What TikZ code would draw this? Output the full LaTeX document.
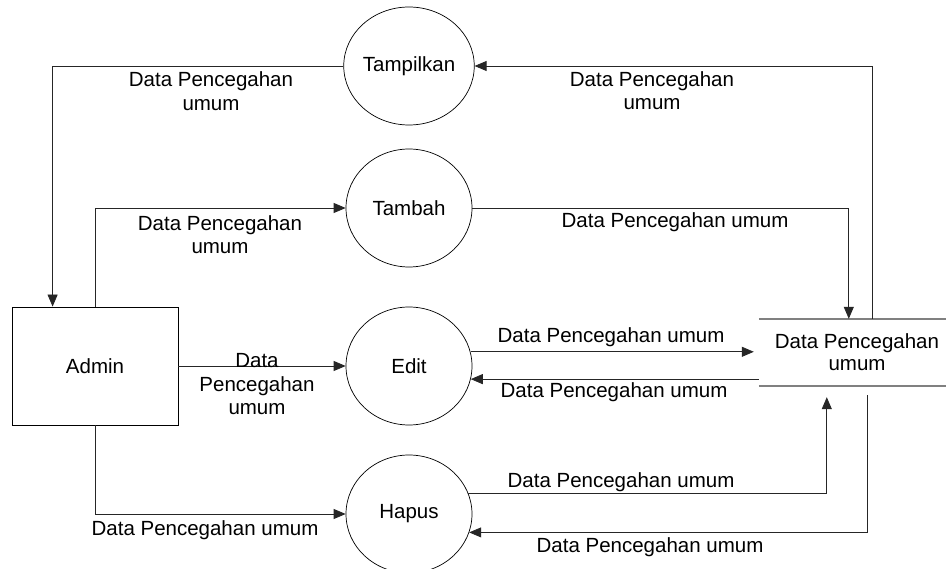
\documentclass[tikz,border=0pt]{standalone}
\usepackage{fontspec}
\setmainfont{Liberation Sans}
\usetikzlibrary{arrows.meta,calc,shapes.geometric}
\begin{document}
\begin{tikzpicture}[x=1pt,y=-1pt,
  proc/.style={ellipse,draw=black,line width=0.7pt,minimum width=126pt,minimum height=118pt,inner sep=0pt,font=\fontsize{20.5}{24}\selectfont},
  ent/.style={rectangle,draw=black,line width=0.8pt,minimum width=166pt,minimum height=118pt,inner sep=0pt,font=\fontsize{20.5}{24}\selectfont},
  store/.style={rectangle,minimum width=196pt,minimum height=67pt,inner sep=0pt,align=center,font=\fontsize{20.5}{22}\selectfont},
  storeline/.style={draw=black!50,line width=1.6pt},
  flow/.style={draw=black!85,line width=0.8pt,-{Triangle[length=12pt,width=10pt]}},
  lbl/.style={align=center,inner sep=0pt,font=\fontsize{20.5}{23.5}\selectfont}]
\useasboundingbox (0,0) rectangle (946,569);
\fill[white] (0,0) rectangle (946,569);
% processes
\node[proc] (tam) at (409,66) {Tampilkan};
\node[proc] (tmb) at (409,208) {Tambah};
\node[proc] (edt) at (409,366) {Edit};
\node[proc] (hps) at (409,514) {Hapus};
% entity
\node[ent] (adm) at (95,366) {Admin};
% data store
\node[store] (ds) at (857,352.5) {Data Pencegahan\\umum};
\draw[storeline] (ds.north west) -- (ds.north east);
\draw[storeline] (ds.south west) -- (ds.south east);
% flows
\draw[flow] (tam.west) -| ($(adm.north west)+(41,0)$);
\draw[flow] (adm.north) |- (tmb.west);
\draw[flow] (tmb.east) -| ($(ds.north west)+(90,0)$);
\draw[flow] ($(ds.north west)+(114,0)$) |- (tam.east);
\draw[flow] (adm.east) -- (edt.west);
\draw[flow,shorten >=5pt] (edt.13.8) -- (edt.13.8 -| ds.west);
\draw[flow] (edt.-12.9 -| ds.west) -- (edt.-12.9);
\draw[flow,shorten >=11pt] (hps.19.6) -| ($(ds.south west)+(68,0)$);
\draw[flow] ($(ds.south west)+(109,9)$) |- (hps.-17.7);
\draw[flow] (adm.south) |- (hps.west);
% labels
\node[lbl] (l1) at (211,91) {Data Pencegahan\\umum};
\node[lbl] (l2) at (652,90.5) {Data Pencegahan\\umum};
\node[lbl] (l3) at (220,234.5) {Data Pencegahan\\umum};
\node[lbl] (l4) at (675,222) {Data Pencegahan umum};
\node[lbl] (l5) at (257,384.5) {Data\\Pencegahan\\umum};
\node[lbl] (l6) at (611,337) {Data Pencegahan umum};
\node[lbl] (l7) at (614,392) {Data Pencegahan umum};
\node[lbl] (l8) at (621,482) {Data Pencegahan umum};
\node[lbl] (l9) at (650,547) {Data Pencegahan umum};
\node[lbl] (l10) at (205,530) {Data Pencegahan umum};
\end{tikzpicture}
\end{document}
